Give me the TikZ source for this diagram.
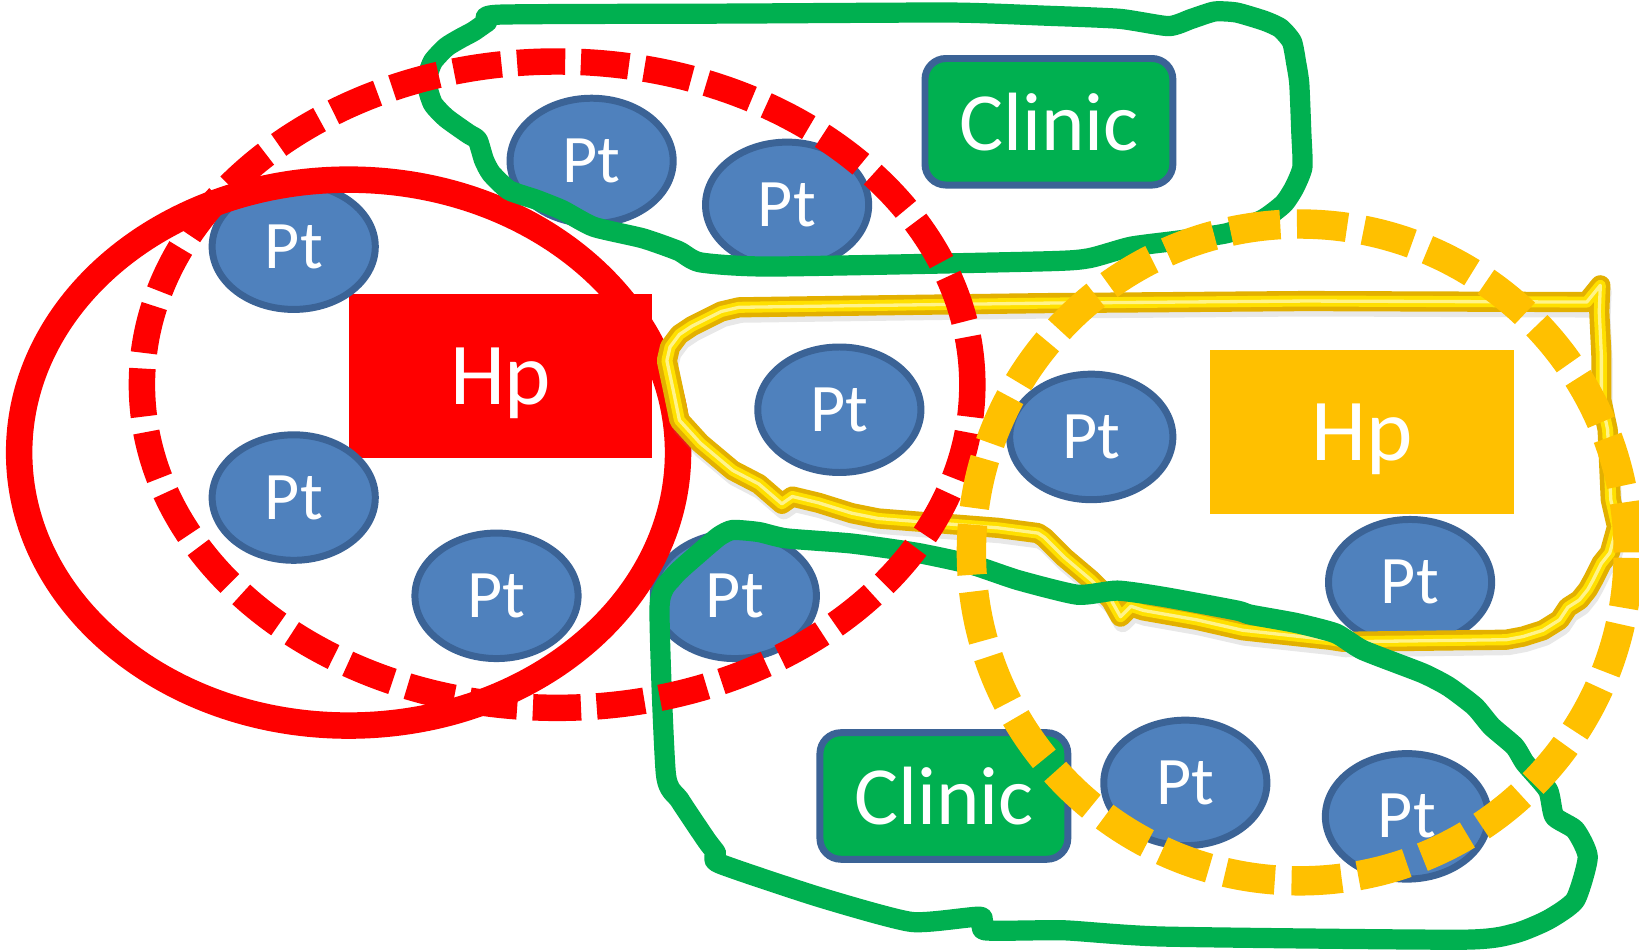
\documentclass[tikz,border=0pt]{standalone}
\usepackage{fontspec}
\newfontfamily\calibri{Carlito}
\usetikzlibrary{shapes.geometric}
\definecolor{ptblue}{HTML}{4F81BD}
\definecolor{ptedge}{HTML}{3B6396}
\definecolor{clinicgreen}{HTML}{00B050}
\definecolor{hporange}{HTML}{FFC000}
\definecolor{hpred}{HTML}{FF0000}
\definecolor{loopgreen}{HTML}{00B050}
\definecolor{goldedge}{HTML}{E3B000}
\definecolor{goldmid}{HTML}{FFE000}
\definecolor{goldhi}{HTML}{FFF38A}
\begin{document}
\begin{tikzpicture}[x=0.01cm,y=-0.01cm,
  ptnode/.style={ellipse, draw=ptedge, fill=ptblue, line width=1.9pt,
    minimum width=1.56cm, minimum height=1.2cm, inner sep=0pt,
    text=white, font=\calibri\fontsize{18.5}{18.5}\selectfont},
  hpnode/.style={rectangle, minimum width=2.9cm, minimum height=1.57cm,
    inner sep=0pt, text=white, text depth=0pt,
    font=\calibri\fontsize{24}{24}\selectfont},
  clinicnode/.style={rectangle, rounded corners=0.2cm, draw=ptedge,
    line width=1.9pt, fill=clinicgreen, minimum width=2.37cm,
    minimum height=1.21cm, inner sep=0pt, text=white,
    font=\calibri\fontsize{22.5}{22.5}\selectfont},
  greenloop/.style={draw=loopgreen, line width=5.5pt, line join=round},
  redring/.style={draw=hpred, line width=7.2pt},
  reddash/.style={draw=hpred, line width=7.2pt, dash pattern=on 0.46cm off 0.15cm},
  orangedash/.style={draw=hporange, line width=8pt, dash pattern=on 0.48cm off 0.16cm},
  goldline/.style={line join=round, line cap=round}
]
\useasboundingbox (0,0) rectangle (1568,909);
\fill[white] (0,0) rectangle (1568,909);

% boxes
\node[hpnode, fill=hpred] (hpred) at (479,359.5) {Hp};
\node[hpnode, fill=hporange] (hporange) at (1303,413) {Hp};
\node[clinicnode] (clinicA) at (1003.5,116.5) {Clinic};
\node[clinicnode] (clinicB) at (903,761.5) {Clinic};

% patients
\node[ptnode] (p1) at (281,236) {Pt};
\node[ptnode] (p2) at (281,476) {Pt};
\node[ptnode] (p3) at (475,570) {Pt};
\node[ptnode] (p4) at (566,154) {Pt};
\node[ptnode] (p5) at (753,196) {Pt};
\node[ptnode] (p6) at (803,392) {Pt};
\node[ptnode] (p7) at (703,570) {Pt};
\node[ptnode] (p8) at (1044,418) {Pt};
\node[ptnode] (p9) at (1349,557) {Pt};
\node[ptnode] (p10) at (1134,749) {Pt};
\node[ptnode] (p11) at (1346,781) {Pt};

% solid red ellipse
\draw[redring] (333.5,433) ellipse [x radius=3.15cm, y radius=2.61cm];

% yellow freehand outline
\def\yellowpath{(707,294) -- (850,292) -- (1000,290) -- (1250,288) -- (1518,289) -- (1531,273) -- (1530,298) -- (1532,340) -- (1532,383) -- (1538,411) -- (1541,478) -- (1547,504) -- (1540,529) -- (1532,539) -- (1524,555) -- (1519,564) -- (1511,574) -- (1500,581) -- (1492,593) -- (1476,603) -- (1457,609) -- (1441,612) -- (1285,614) -- (1272,612) -- (1189,603) -- (1145,593) -- (1094,584) -- (1082,580) -- (1072,590) -- (1063,574) -- (1044,555) -- (1018,533) -- (999,514) -- (993,510) -- (955,505) -- (891,500) -- (840,496) -- (815,491) -- (783,481) -- (758,475) -- (748,482) -- (726,463) -- (701,450) -- (670,424) -- (650,402) -- (644,373) -- (638,345) -- (641,332) -- (650,320) -- (662,312) -- (676,305) -- (690,298) -- cycle}
\draw[goldline, gray, opacity=0.18, line width=5pt, transform canvas={shift={(0.02cm,-0.06cm)}}] \yellowpath;
\draw[goldline, draw=goldedge, line width=5.5pt] \yellowpath;
\draw[goldline, draw=goldmid, line width=3pt] \yellowpath;
\draw[goldline, draw=goldhi, line width=0.9pt] \yellowpath;

% green loops
\draw[greenloop] plot[smooth cycle, tension=0.35] coordinates {
 (478,14) (700,13) (910,12) (1000,15) (1071,18) (1118,25) (1140,18) (1162,11)
 (1183,12) (1210,20) (1225,27) (1236,40) (1240,60) (1243,80) (1245,128) (1246,160)
 (1238,180) (1228,195) (1208,210) (1174,223) (1128,230) (1082,236) (1042,247)
 (1000,250) (738,255) (670,251) (649,240) (615,228) (568,217) (538,201) (513,191)
 (487,182) (470,166) (463,153) (457,134) (448,128) (427,113) (414,99) (408,78)
 (414,59) (427,45) (440,37) (453,30) (466,21)};
\draw[greenloop] plot[smooth cycle, tension=0.35] coordinates {
 (701,507) (726,509) (752,515) (815,520) (878,529) (929,540) (974,555) (1031,569)
 (1069,565) (1113,571) (1183,584) (1196,588) (1240,596) (1278,606) (1304,622)
 (1361,644) (1386,657) (1411,676) (1427,695) (1449,714) (1459,730) (1481,756)
 (1487,781) (1507,794) (1519,820) (1507,861) (1481,880) (1449,893) (1399,899)
 (1113,896) (1018,890) (942,890) (938,877) (872,882) (783,858) (688,826) (685,816)
 (676,804) (650,765) (637,740) (631,580) (644,552) (669,529) (688,513)};

% dashed rings
\draw[reddash] (533,368) ellipse [x radius=3.97cm, y radius=3.09cm];
\draw[orangedash] (1243.5,528.5) circle [radius=3.14cm];
\end{tikzpicture}
\end{document}
